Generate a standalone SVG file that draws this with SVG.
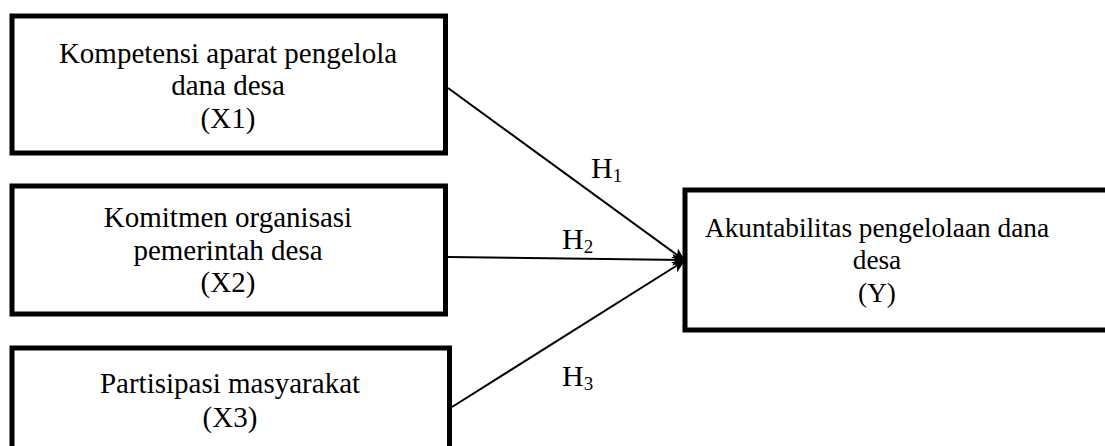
<svg xmlns="http://www.w3.org/2000/svg" width="1105" height="446" viewBox="0 0 1105 446">
<defs>
<style>
.box{fill:#fff;stroke:#000;stroke-width:5}
.t{font-family:"Liberation Serif","Times New Roman",serif;font-size:29px;fill:#000;text-anchor:middle}
.ty{font-size:27.3px}
.h{font-family:"Liberation Serif","Times New Roman",serif;font-size:30px;fill:#000}
.sub{font-size:19px}
.c{stroke:#000;stroke-width:2;fill:none}
</style>
<marker id="arr" viewBox="0 0 10 10" refX="9" refY="5" markerWidth="6.5" markerHeight="6.5" orient="auto" markerUnits="strokeWidth">
<path d="M0,0.5 L10,5 L0,9.5 L2.5,5 Z" fill="#000"/>
</marker>
</defs>
<rect width="1105" height="446" fill="#fff"/>
<g id="x1">
<rect class="box" x="12" y="16" width="433.5" height="137"/>
<text class="t" x="228" y="63">Kompetensi aparat pengelola</text>
<text class="t" x="228" y="95">dana desa</text>
<text class="t" x="228" y="128">(X1)</text>
</g>
<g id="x2">
<rect class="box" x="12" y="186" width="433.5" height="128"/>
<text class="t" x="228" y="227">Komitmen organisasi</text>
<text class="t" x="228" y="260">pemerintah desa</text>
<text class="t" x="228" y="292">(X2)</text>
</g>
<g id="x3">
<rect class="box" x="12" y="348" width="437.5" height="120"/>
<text class="t" x="230" y="393">Partisipasi masyarakat</text>
<text class="t" x="230" y="427">(X3)</text>
</g>
<g id="y">
<rect class="box" x="685" y="190" width="440" height="140"/>
<text class="t ty" x="877" y="237">Akuntabilitas pengelolaan dana</text>
<text class="t ty" x="877" y="269">desa</text>
<text class="t ty" x="877" y="302">(Y)</text>
</g>
<g id="connectors">
<line class="c" x1="448" y1="88" x2="684" y2="260" marker-end="url(#arr)"/>
<line class="c" x1="448" y1="257" x2="684" y2="260" marker-end="url(#arr)"/>
<line class="c" x1="452" y1="407" x2="684" y2="261" marker-end="url(#arr)"/>
<text class="h" x="591" y="178">H<tspan class="sub" dy="4">1</tspan></text>
<text class="h" x="562" y="249">H<tspan class="sub" dy="4">2</tspan></text>
<text class="h" x="562" y="386">H<tspan class="sub" dy="4">3</tspan></text>
</g>
</svg>
